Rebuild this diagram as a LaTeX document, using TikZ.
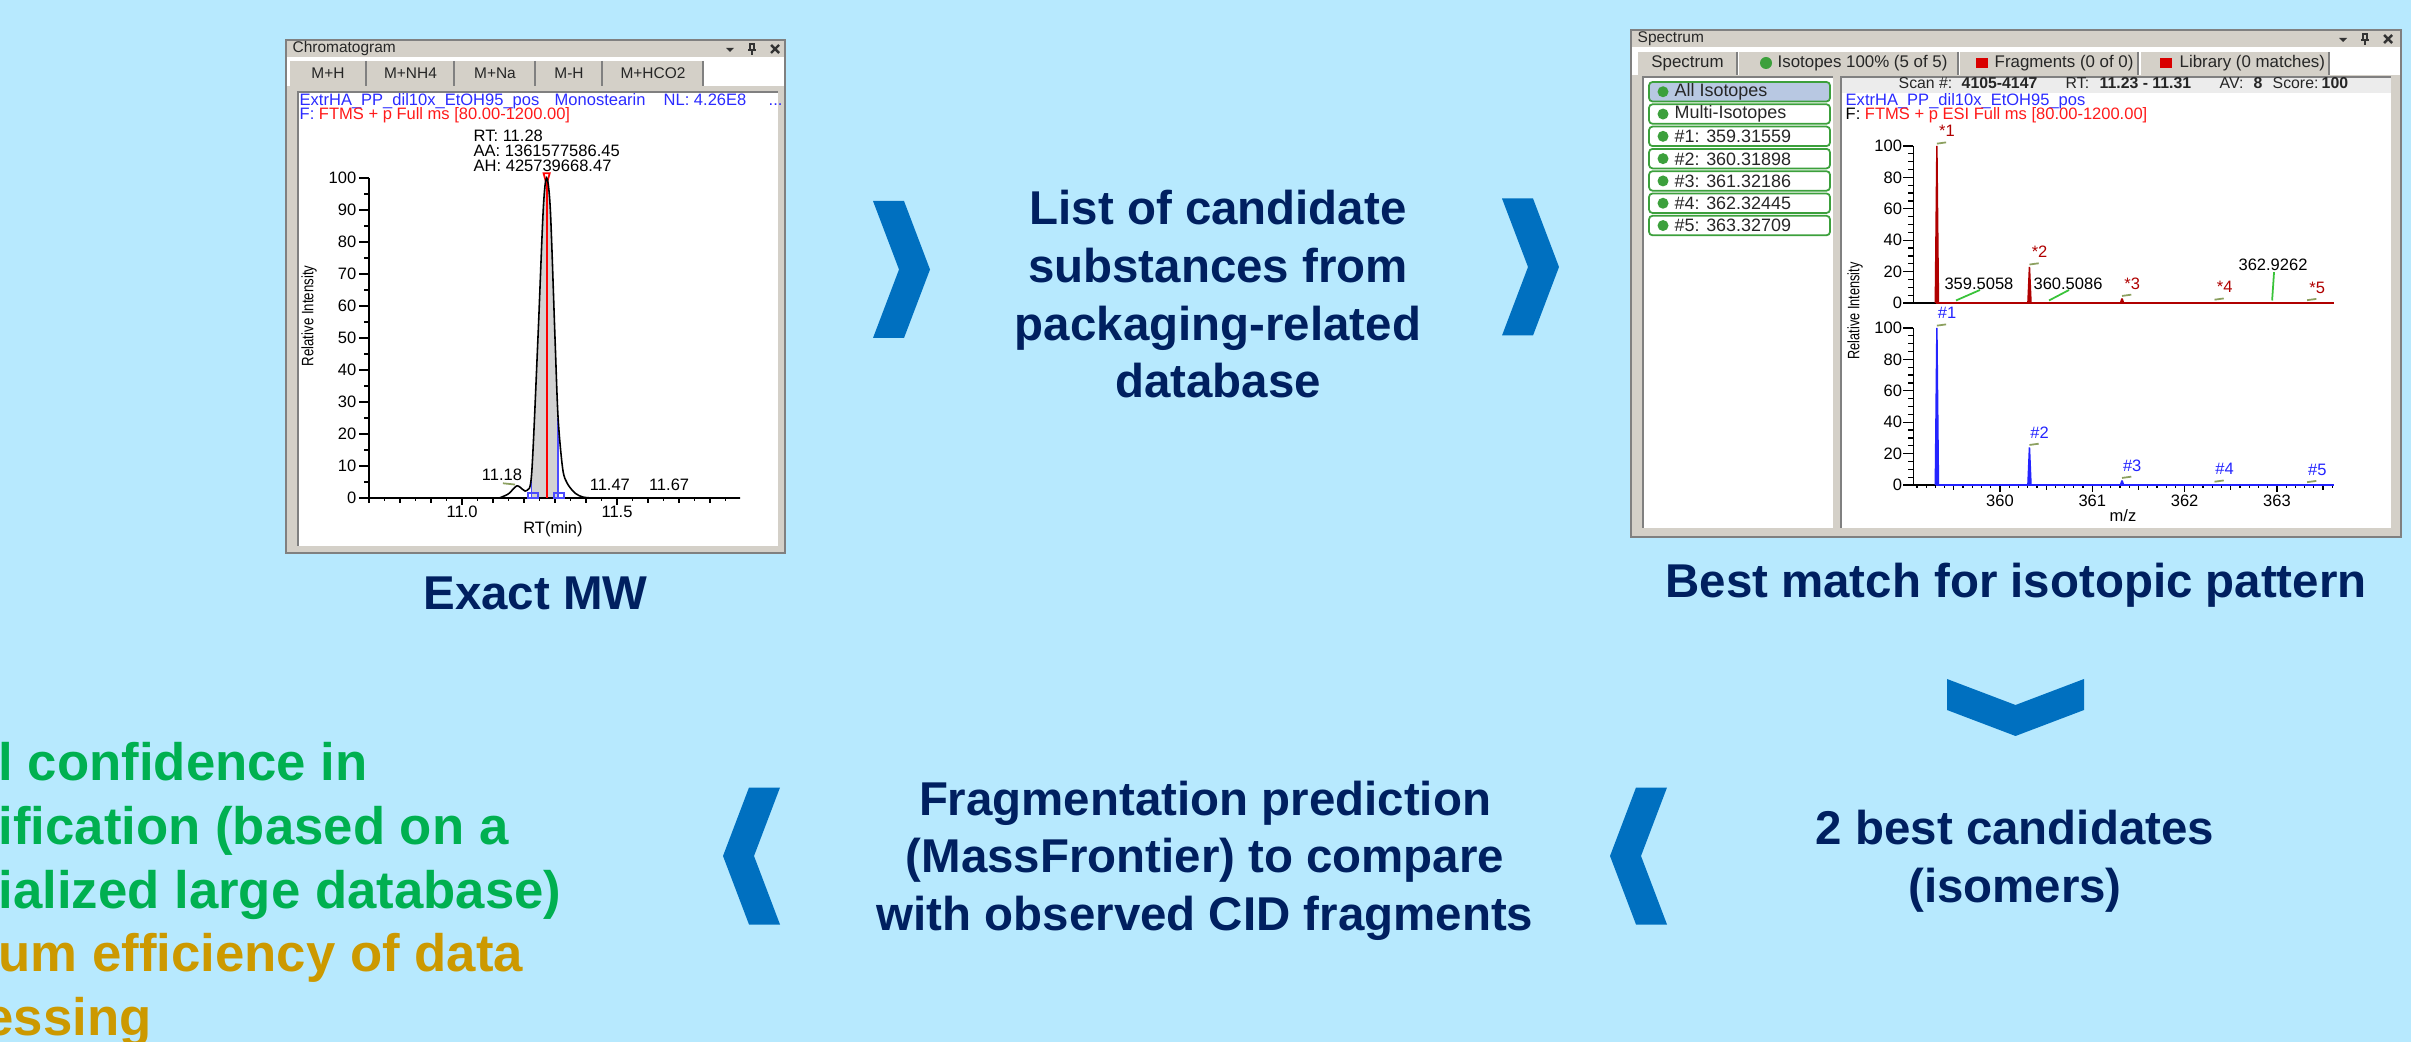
\documentclass[tikz,border=0pt]{standalone}
\usepackage{fontspec}
\setmainfont{Liberation Sans}
\usetikzlibrary{positioning}
\definecolor{sky}{RGB}{183,233,254}
\definecolor{chev}{HTML}{0070C0}
\definecolor{navy}{HTML}{002060}
\definecolor{leaf}{HTML}{00B050}
\definecolor{ochre}{HTML}{CC9900}
\definecolor{wingray}{HTML}{D4D0C8}
\definecolor{darkgray}{HTML}{808080}
\definecolor{hdrblue}{HTML}{2B2BFF}
\definecolor{hdrred}{HTML}{FF1A1A}
\definecolor{peakred}{HTML}{B00000}
\definecolor{peakblue}{HTML}{2424FF}
\definecolor{okgreen}{HTML}{3CA03C}
\definecolor{selblue}{HTML}{B8C8E2}
\definecolor{olive}{HTML}{8CA060}
\definecolor{leader}{HTML}{39C339}

\begin{document}
\begin{tikzpicture}[x=0.1mm, y=-0.1mm,
  lbl/.style={font=\fontsize{13.5}{16.4}\selectfont\bfseries, text=navy, align=center, inner sep=0pt},
  note/.style={font=\fontsize{15}{18.1}\selectfont\bfseries, align=left, inner sep=0pt},
  win/.style={fill=wingray, draw=darkgray, line width=0.4pt, inner sep=0pt},
  ui/.style={font=\fontsize{4.4}{5.2}\selectfont, text=black!85, inner sep=0pt},
  sm/.style={font=\fontsize{4.7}{5.6}\selectfont, inner sep=0pt},
  axtick/.style={line width=0.35pt},
  item/.style={draw=okgreen, line width=0.5pt, rounded corners=1pt},
  chevR/.pic={\fill[chev] (-28.5,-68.5) -- (2.5,-68.5) -- (28.5,0) -- (2.5,68.5) -- (-28.5,68.5) -- (-2.5,0) -- cycle;},
  winctl/.pic={
    \fill[black!80] (-49,-1) -- (-41,-1) -- (-45,3) -- cycle;
    \draw[black!80, line width=0.5pt] (-25,-5) rectangle (-21,1) (-27,1) -- (-19,1) (-23,1) -- (-23,6);
    \draw[black!80, line width=0.7pt] (-4,-4) -- (4,4) (-4,4) -- (4,-4);}]
\fill[sky] (0,0) rectangle (2411,1042);
\useasboundingbox (0,0) rectangle (2411,1042);

% chromatogram window
\node[win, minimum width=49.9mm, minimum height=51.3mm] (chromwin) at (535.5,296.5) {};
\node[ui, anchor=west] (ctitle) at (292,49) {Chromatogram};
\pic at (775,49) {winctl};
\fill[white] (287,57) rectangle (784,86);
\foreach \a/\b/\t [count=\i] in {290/366/M+H,367/454/M+NH4,455/535/M+Na,536/602/M-H,603/703/M+HCO2}{
  \fill[wingray] (\a,61) rectangle (\b,86);
  \draw[darkgray, line width=0.6pt] (\b,61) -- (\b,86);
  \node[ui] (ctab\i) at ({(\a+\b)/2},73.5) {\t};
}
\fill[white] (298,92) rectangle (778,546);
\draw[darkgray] (298,546) |- (778,92);
\node[sm, anchor=base west, text=hdrblue] (cfile) at (299,106) {ExtrHA\_PP\_dil10x\_EtOH95\_pos};
\node[sm, anchor=base west, text=hdrblue] (ccomp) at (554,106) {Monostearin};
\node[sm, anchor=base west, text=hdrblue] (cnl) at (663,106) {NL: 4.26E8};
\node[sm, anchor=base west, text=hdrblue] (cdots) at (768,106) {...};
\node[sm, anchor=base west] (cfilt) at (299,120) {\textcolor{hdrblue}{F:} \textcolor{hdrred}{FTMS + p Full ms [80.00-1200.00]}};
\node[sm, anchor=base west] (crt) at (473,142) {RT: 11.28};
\node[sm, anchor=base west] (caa) at (473,157) {AA: 1361577586.45};
\node[sm, anchor=base west] (cah) at (473,172) {AH: 425739668.47};
\node[sm, rotate=90] (cylab) at (309,316) {\scalebox{0.8}[1]{Relative Intensity}};
\node[sm] (cxlab) at (553,529) {RT(min)};
\begin{scope}[shift={(369,498)}, x=31mm, y=0.32mm]
  \begin{scope}
    \clip (0.525,0) rectangle (0.61,101);
    \fill[gray!35] (0.42,0) -- plot[smooth, tension=0.5] coordinates {(0.42,0) (0.45,1.3) (0.477,3.8) (0.497,2.6) (0.51,2.4) (0.525,8) (0.545,50) (0.562,90) (0.573,100) (0.585,90) (0.6,50) (0.61,25) (0.625,9) (0.64,4.5) (0.665,1.5) (0.69,0.3) (0.72,0)} -- cycle;
  \end{scope}
  \draw[axtick] (0,100) -- (0,0) -- (1.197,0);
  \foreach \v in {0,10,...,100} {
    \draw[axtick] (-0.032,\v) -- (0,\v);
    \node[sm, anchor=east] (cy\v) at (-0.039,\v) {\v};
  }
  \foreach \v in {5,15,...,95} \draw[axtick] (-0.016,\v) -- (0,\v);
  \foreach \t in {0,0.05,...,1.19} \draw[axtick] (\t,0) -- (\t,-1);
  \foreach \t in {0,0.1,...,1.19} \draw[axtick] (\t,0) -- (\t,-1.6);
  \foreach \t/\l in {0.3/11.0,0.8/11.5} {
    \draw[axtick] (\t,0) -- (\t,-2.2);
    \node[sm] (cx\l) at (\t,-4.4) {\l};
  }
  \draw[blue!70, line width=0.4pt] (0.525,0) -- (0.525,8) (0.61,0) -- (0.61,25);
  \draw[blue!70, line width=0.4pt] (0.513,0) rectangle (0.545,1.6) (0.597,0) rectangle (0.629,1.6);
  \draw[red, line width=0.6pt] (0.573,0) -- (0.573,100);
  \draw[red, line width=0.5pt] (0.563,101.5) -- (0.583,101.5) -- (0.573,98) -- cycle;
  \draw[line width=0.45pt] (0,0) -- plot[smooth, tension=0.5] coordinates {(0.42,0) (0.45,1.3) (0.477,3.8) (0.497,2.6) (0.51,2.4) (0.525,8) (0.545,50) (0.562,90) (0.573,100) (0.585,90) (0.6,50) (0.61,25) (0.625,9) (0.64,4.5) (0.665,1.5) (0.69,0.3) (0.72,0)} -- (1.197,0);
  \draw[olive, line width=0.5pt] (0.432,4.6) -- (0.471,4.2);
  \node[sm, anchor=base] (c1118) at (0.429,5.6) {11.18};
  \node[sm, anchor=base] (c1147) at (0.777,2.2) {11.47};
  \node[sm, anchor=base] (c1167) at (0.968,2.2) {11.67};
\end{scope}

% spectrum window
\node[win, minimum width=77mm, minimum height=50.7mm] (specwin) at (2016,283.5) {};
\node[ui, anchor=west] (stitle) at (1637,39) {Spectrum};
\pic at (2388,39) {winctl};
\fill[white] (1632,47) rectangle (2400,75);
\foreach \a/\b in {1638/1737,1739/1958,1960/2138,2141/2329}{
  \fill[wingray] (\a,52) rectangle (\b,75);
  \draw[darkgray, line width=0.6pt] (\b,52) -- (\b,75);
}
\node[ui, font=\fontsize{4.8}{5.6}\selectfont] (stab1) at (1687.5,63.5) {Spectrum};
\fill[okgreen] (1766,63) circle (0.6mm);
\node[ui, anchor=west, font=\fontsize{4.8}{5.6}\selectfont] (stab2) at (1777,63.5) {Isotopes 100\% (5 of 5)};
\fill[red!85!black] (1976,58) rectangle (1988,68);
\node[ui, anchor=west, font=\fontsize{4.8}{5.6}\selectfont] (stab3) at (1994,63.5) {Fragments (0 of 0)};
\fill[red!85!black] (2160,58) rectangle (2172,68);
\node[ui, anchor=west, font=\fontsize{4.8}{5.6}\selectfont] (stab4) at (2179,63.5) {Library (0 matches)};
\fill[white] (1643,77) rectangle (1833,528);
\draw[darkgray] (1643,528) |- (1833,77);
\foreach \t/\f [count=\i from 0] in {All Isotopes/selblue, Multi-Isotopes/white, \#1: 359.31559/white, \#2: 360.31898/white, \#3: 361.32186/white, \#4: 362.32445/white, \#5: 363.32709/white}{
  \draw[item, fill=\f] (1649,{82+22.3*\i}) rectangle (1830,{101.5+22.3*\i});
  \fill[okgreen] (1663,{91.75+22.3*\i}) circle (0.55mm);
  \node[ui, anchor=west, font=\fontsize{5.1}{6}\selectfont] (iso\i) at (1674,{92+22.3*\i}) {\t};
}
\fill[white] (1841,77) rectangle (2391,528);
\fill[gray!15] (1841,77) rectangle (2391,93);
\draw[darkgray] (1841,528) |- (2391,77);
\foreach \x/\t [count=\i] in {1898/Scan \#:, 1961/\textbf{4105-4147}, 2065/RT:, 2099/\textbf{11.23 - 11.31}, 2219/AV:, 2253/\textbf{8}, 2272/Score:, 2321/\textbf{100}}
  \node[ui, anchor=base west, font=\fontsize{4.5}{5.4}\selectfont] (scan\i) at (\x,89) {\t};
\node[sm, anchor=base west, text=hdrblue] (sfile) at (1845,106) {ExtrHA\_PP\_dil10x\_EtOH95\_pos};
\node[sm, anchor=base west] (sfilt) at (1845,120) {F: \textcolor{hdrred}{FTMS + p ESI Full ms [80.00-1200.00]}};
\node[sm, rotate=90] (sylab) at (1855,311) {\scalebox{0.77}[1]{Relative Intensity}};
\node[sm] (mzlab) at (2123,516) {m/z};
% measured isotopes
\begin{scope}[shift={(2000,303)}, x=9.23mm, y=0.157mm]
  \draw[axtick] (-0.94,100) -- (-0.94,0) -- (3.62,0);
  \foreach \v in {5,10,...,95} \draw[axtick] (-0.994,\v) -- (-0.94,\v);
  \foreach \v in {0,20,...,100} {
    \draw[axtick] (-1.048,\v) -- (-0.94,\v);
    \node[sm, anchor=east] (uy\v) at (-1.055,\v) {\v};
  }
  \draw[peakred, line width=0.5pt] (-0.69,0) -- (3.62,0);
  \foreach \m/\h/\n in {-0.684/100/1, 0.319/23/2, 1.322/3/3, 2.324/0.6/4, 3.327/0.3/5} {
    \fill[peakred] (\m-0.025,0) -- (\m-0.008,\h) -- (\m+0.008,\h) -- (\m+0.025,0) -- cycle;
    \draw[olive, line width=0.5pt] (\m,\h+1.5) -- (\m+0.1,\h+2.3);
    \node[sm, text=peakred] (up\n) at (\m+0.11,\h+9.5) {*\n};
  }
  \draw[leader, line width=0.5pt] (-0.217,8.3) -- (-0.477,1.6) (0.748,8.3) -- (0.531,1.6) (2.969,19.7) -- (2.948,1.6);
  \node[sm] (m1) at (-0.228,12.1) {359.5058};
  \node[sm] (m2) at (0.737,12.1) {360.5086};
  \node[sm] (m3) at (2.958,24.2) {362.9262};
\end{scope}
% theoretical isotopes
\begin{scope}[shift={(2000,485)}, x=9.23mm, y=0.157mm]
  \draw[axtick] (-0.94,100) -- (-0.94,0) -- (3.62,0);
  \foreach \v in {5,10,...,95} \draw[axtick] (-0.994,\v) -- (-0.94,\v);
  \foreach \v in {0,20,...,100} {
    \draw[axtick] (-1.048,\v) -- (-0.94,\v);
    \node[sm, anchor=east] (ly\v) at (-1.055,\v) {\v};
  }
  \foreach \k in {-0.9,-0.8,...,3.65} \draw[axtick] (\k,0) -- (\k,-1.9);
  \foreach \k in {-0.5,0.5,1.5,2.5,3.5} \draw[axtick] (\k,0) -- (\k,-3.2);
  \foreach \k in {0,1,2,3} {
    \draw[axtick] (\k,0) -- (\k,-4.5);
    \pgfmathtruncatemacro\lab{360+\k}
    \node[sm] (lx\k) at (\k,-10) {\lab};
  }
  \draw[peakblue, line width=0.5pt] (-0.69,0) -- (3.62,0);
  \foreach \m/\h/\n in {-0.684/100/1, 0.319/24/2, 1.322/3/3, 2.324/0.6/4, 3.327/0.3/5} {
    \fill[peakblue] (\m-0.025,0) -- (\m-0.008,\h) -- (\m+0.008,\h) -- (\m+0.025,0) -- cycle;
    \draw[olive, line width=0.5pt] (\m,\h+1.5) -- (\m+0.1,\h+2.3);
    \node[sm, text=peakblue] (lo\n) at (\m+0.11,\h+9.5) {\#\n};
  }
\end{scope}

% workflow texts
\node[lbl, below=2.2mm of chromwin] (mw) {Exact MW};
\node[lbl] (cand) at (1218,294.5) {List of candidate\\substances from\\packaging-related\\database};
\node[lbl, below=2.5mm of specwin] (match) {Best match for isotopic pattern};
\node[lbl] (best) at (2015,861.5) {2 best candidates\\(isomers)};
\node[lbl] (frag) at (1205,860.5) {Fragmentation prediction\\(MassFrontier) to compare\\with observed CID fragments};
\node[note, anchor=north west, text=leaf] (conf) at (-2,742) {l confidence in\\ification (based on a\\ialized large database)\\\textcolor{ochre}{um efficiency of data}\\\textcolor{ochre}{\hspace*{-4pt}essing}};

% chevrons
\pic at (901.5,269.5) {chevR};
\pic at (1530.5,267) {chevR};
\pic[rotate=-90] at (2015.5,707.5) {chevR};
\pic[rotate=180] at (1638.5,856) {chevR};
\pic[rotate=180] at (751.5,856) {chevR};
\end{tikzpicture}
\end{document}
